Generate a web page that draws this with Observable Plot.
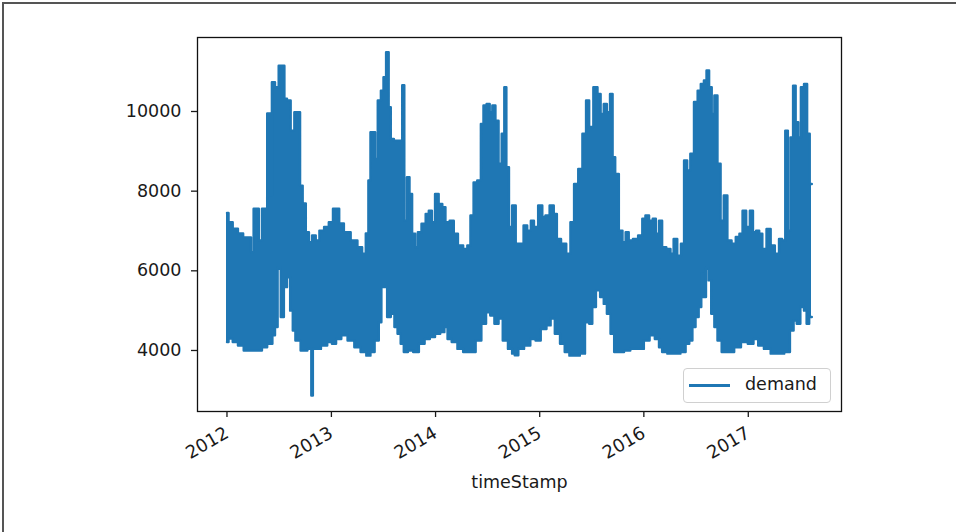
<!DOCTYPE html>
<html>
<head>
<meta charset="utf-8">
<script src="https://cdn.jsdelivr.net/npm/d3@7"></script>
<script src="https://cdn.jsdelivr.net/npm/@observablehq/plot@0.6"></script>
<style>
  html, body { margin: 0; padding: 0; background: #fff; }
  #wrap { position: relative; width: 956px; height: 532px; overflow: hidden; }
  #edge { position: absolute; left: 2px; top: 2px; width: 960px; height: 540px;
          border-top: 2px solid #555; border-left: 2px solid #555; pointer-events: none; }
  #legend { position: absolute; left: 683px; top: 368px; width: 146px; height: 33px;
            border: 1px solid #d0d0d0; border-radius: 4px; background: rgba(255,255,255,0.8);
            font-family: "DejaVu Sans", sans-serif; font-size: 17.5px; color: #1a1a1a; }
  #legend .sw { position: absolute; left: 5px; top: 15px; width: 41px; height: 2.6px; background: #1f77b4; }
  #legend .lb { position: absolute; left: 61px; top: 5px; line-height: 20px; }
</style>
</head>
<body>
<div id="wrap">
  <div id="chart"></div>
  <div id="legend"><div class="sw"></div><div class="lb">demand</div></div>
  <div id="edge"></div>
</div>
<script>
// Tick labels
const yearTicks = [2012, 2013, 2014, 2015, 2016, 2017];
const yTicks = [4000, 6000, 8000, 10000];
const seriesName = "demand";
const xTitle = "timeStamp";

// Upper envelope of the hourly demand trace (time in decimal years, value)
const upperT = [2012.00,2012.03,2012.08,2012.13,2012.18,2012.22,2012.24,2012.27,2012.29,2012.32,2012.35,2012.38,2012.39,2012.41,2012.42,2012.44,2012.48,2012.51,2012.54,2012.56,2012.59,2012.63,2012.66,2012.69,2012.71,2012.74,2012.77,2012.80,2012.83,2012.87,2012.90,2012.96,2012.99,
  2013.04,2013.06,2013.09,2013.15,2013.22,2013.28,2013.31,2013.35,2013.36,2013.39,2013.41,2013.43,2013.46,2013.49,2013.51,2013.54,2013.56,2013.58,2013.62,2013.67,2013.69,2013.71,2013.74,2013.76,2013.79,2013.82,2013.84,2013.89,2013.92,2013.95,2013.98,
  2014.01,2014.05,2014.08,2014.11,2014.16,2014.19,2014.24,2014.29,2014.32,2014.35,2014.38,2014.42,2014.45,2014.47,2014.51,2014.53,2014.56,2014.59,2014.62,2014.65,2014.67,2014.69,2014.72,2014.75,2014.79,2014.83,2014.86,2014.90,2014.93,2014.96,
  2015.01,2015.04,2015.07,2015.12,2015.15,2015.18,2015.23,2015.28,2015.31,2015.35,2015.39,2015.43,2015.46,2015.49,2015.54,2015.57,2015.60,2015.63,2015.66,2015.69,2015.71,2015.74,2015.78,2015.81,2015.84,2015.87,2015.92,2015.97,
  2016.00,2016.03,2016.07,2016.10,2016.13,2016.16,2016.19,2016.24,2016.27,2016.30,2016.34,2016.37,2016.40,2016.43,2016.46,2016.50,2016.53,2016.56,2016.59,2016.61,2016.64,2016.66,2016.69,2016.72,2016.75,2016.78,2016.82,2016.86,2016.90,2016.93,2016.96,
  2017.00,2017.03,2017.06,2017.09,2017.12,2017.15,2017.20,2017.23,2017.28,2017.31,2017.34,2017.37,2017.39,2017.42,2017.44,2017.47,2017.49,2017.52,2017.55,2017.58,2017.60,2017.61];
const upperV = [7450,7220,7060,6940,6840,6840,6470,7560,7560,6760,7560,7560,9950,9950,7890,10735,10610,11150,11150,10320,10275,9520,9980,9980,8140,7690,6970,6720,6890,6760,7010,7100,7220,
  7560,7560,7190,6970,6760,6590,6430,6940,8270,9480,9480,8810,10275,10525,10860,11490,10110,9310,9270,9270,10660,7260,8350,7930,6930,6590,6970,7180,7430,7510,7220,
  7930,7680,7600,7220,7260,6930,6640,6550,6640,7390,8220,8270,9690,10150,10190,9980,10150,9770,8690,9440,10610,8600,7100,7640,6680,6680,7140,7010,7260,7100,
  7640,7350,7390,7640,7430,6800,6680,6430,7220,8180,8560,9440,10275,9610,10610,10440,9940,10190,9980,10440,8850,8430,7010,6720,6970,6760,6800,6890,
  7310,7390,7260,7310,6930,7260,6590,6550,6430,6800,6380,6680,8770,8520,8940,10240,10525,10690,10780,11030,10610,9940,10400,8690,7260,7890,6760,6680,6850,6930,7510,
  7100,7510,6970,7010,6930,6550,7050,6640,6430,6800,6760,9520,7010,9350,10650,9730,9350,10610,10690,9440,8180,8180];

// Lower envelope of the hourly demand trace (time in decimal years, value)
const lowerT = [2012.00,2012.03,2012.08,2012.13,2012.19,2012.25,2012.32,2012.35,2012.42,2012.45,2012.47,2012.50,2012.53,2012.56,2012.59,2012.62,2012.64,2012.67,2012.74,2012.80,2012.815,2012.83,2012.87,2012.93,2012.99,
  2013.02,2013.07,2013.12,2013.19,2013.25,2013.31,2013.36,2013.39,2013.44,2013.47,2013.49,2013.52,2013.55,2013.59,2013.62,2013.65,2013.68,2013.71,2013.76,2013.81,2013.87,2013.92,2013.97,
  2014.02,2014.07,2014.10,2014.13,2014.18,2014.24,2014.29,2014.35,2014.42,2014.46,2014.51,2014.54,2014.59,2014.62,2014.67,2014.72,2014.75,2014.77,2014.82,2014.88,2014.94,2014.98,
  2015.04,2015.09,2015.12,2015.17,2015.22,2015.26,2015.31,2015.36,2015.41,2015.46,2015.49,2015.52,2015.56,2015.60,2015.63,2015.66,2015.70,2015.73,2015.78,2015.84,2015.90,2015.97,
  2016.03,2016.08,2016.13,2016.16,2016.19,2016.26,2016.32,2016.38,2016.42,2016.45,2016.48,2016.51,2016.54,2016.56,2016.58,2016.61,2016.63,2016.66,2016.69,2016.72,2016.77,2016.83,2016.90,2016.96,
  2017.03,2017.07,2017.12,2017.18,2017.25,2017.31,2017.38,2017.42,2017.45,2017.48,2017.52,2017.55,2017.57,2017.60,2017.61];
const lowerV = [4210,4300,4210,4125,4000,4000,4000,4080,4170,4380,4590,6090,4840,5590,5840,5000,4500,4250,4000,4040,2870,4040,4040,4125,4210,
  4170,4290,4380,4250,4080,3960,3870,3960,4250,4710,5590,5590,4840,4920,4590,4420,4170,3960,4000,3960,4170,4290,4340,
  4420,4460,4590,4290,4210,4040,3960,3960,4250,4670,4960,4880,4670,4800,4250,4040,3920,3880,4040,4125,4290,4250,
  4540,4630,4800,4420,4170,3960,3870,3870,3920,4710,4670,5090,5510,5340,5170,4920,4420,3960,3960,4000,4040,4040,
  4250,4380,4290,4080,3960,3920,3920,3960,4170,4250,4590,4840,5090,5930,5340,6090,5760,4920,4590,4250,3960,3960,4080,4210,
  4170,4290,4125,4040,3920,3920,3960,4500,4750,4670,5090,5000,4670,4840,4840];

function toDate(t) {
  const y = Math.floor(t);
  const a = Date.UTC(y, 0, 1), b = Date.UTC(y + 1, 0, 1);
  return new Date(a + (t - y) * (b - a));
}
const upper = upperT.map((t, i) => ({date: toDate(t), v: upperV[i]}));
const lower = lowerT.map((t, i) => ({date: toDate(t), v: lowerV[i]}));
const yearDates = yearTicks.map(y => new Date(Date.UTC(y, 0, 1)));

const blue = "#1f77b4";
const chart = Plot.plot({
  width: 956,
  height: 532,
  marginLeft: 197,
  marginRight: 115,
  marginTop: 37,
  marginBottom: 121,
  style: {fontFamily: "DejaVu Sans, sans-serif", fontSize: "17.5px", color: "#1a1a1a", background: "#fff"},
  x: {type: "utc", domain: [toDate(2011.717), toDate(2017.895)]},
  y: {domain: [2468, 11858]},
  marks: [
    Plot.areaY(upper, {x: "date", y1: 6000, y2: "v", curve: "step", fill: blue, shapeRendering: "crispEdges"}),
    Plot.areaY(lower, {x: "date", y1: "v", y2: 6300, curve: "step", fill: blue, shapeRendering: "crispEdges"}),
    Plot.lineY(upper, {x: "date", y: "v", curve: "step", stroke: blue, strokeWidth: 2.4}),
    Plot.lineY(lower, {x: "date", y: "v", curve: "step", stroke: blue, strokeWidth: 2.4}),
    Plot.frame({stroke: "#111", strokeWidth: 1.3}),
    Plot.axisY({ticks: yTicks, tickSize: 6, tickPadding: 10, tickFormat: d => String(d), label: null, strokeWidth: 1.3}),
    Plot.axisX({ticks: yearDates, tickFormat: d3.utcFormat("%Y"), tickSize: 6, tickPadding: 14, tickRotate: -30, label: null, strokeWidth: 1.3, fontSize: 18}),
    Plot.text([xTitle], {frameAnchor: "bottom", dy: 76, text: d => d, fill: "#1a1a1a"})
  ]
});
document.getElementById("chart").appendChild(chart);
document.querySelector("#legend .lb").textContent = seriesName;
</script>
</body>
</html>
